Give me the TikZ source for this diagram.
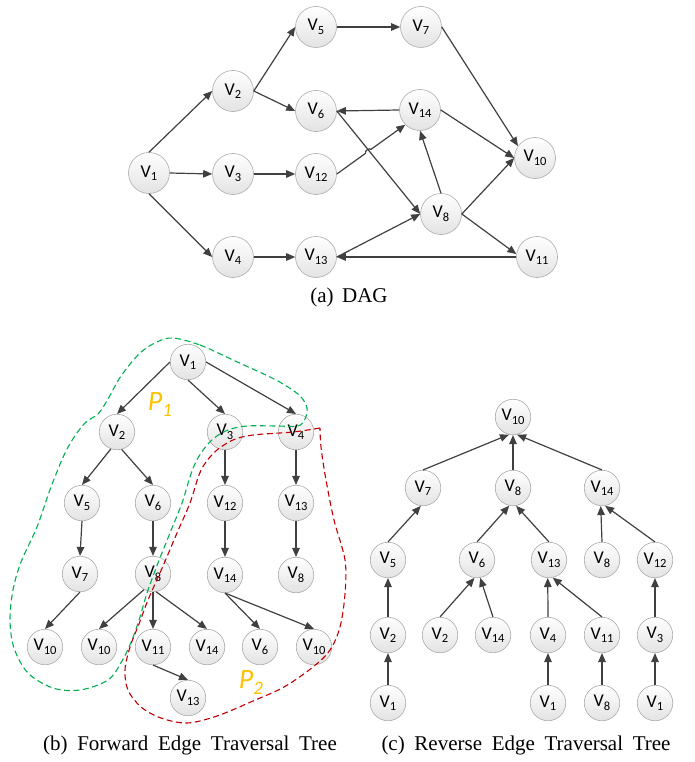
\documentclass[tikz,border=0pt]{standalone}
\usepackage{fontspec}
\setmainfont{Liberation Serif}
\newfontfamily\nodefont{Carlito}
\newfontfamily\capfont{Liberation Serif}
\usetikzlibrary{arrows.meta,calc}

\definecolor{edgegray}{HTML}{404040}
\definecolor{rimgray}{HTML}{ABABAB}
\definecolor{pgreen}{HTML}{00B050}
\definecolor{pred}{HTML}{C00000}
\definecolor{porange}{HTML}{FFC000}

% vertex label: V with a lowered index
\newcommand\vlab[1]{V\raisebox{-3.5pt}{\fontsize{12.5}{12.5}\selectfont #1}}

\begin{document}
\begin{tikzpicture}[x=1pt,y=-1pt,
  vtx/.style={circle, draw=rimgray, line width=0.6pt, top color=white,
    bottom color=black!11, inner sep=0pt, minimum size=41pt,
    font=\nodefont\fontsize{18}{18}\selectfont},
  tvtx/.style={vtx, minimum size=35.5pt},
  arc/.style={draw=edgegray, line width=1.2pt, -{Triangle[length=9pt,width=7.5pt]}},
  region/.style={line width=1.1pt, dash pattern=on 6pt off 3.5pt},
  plabel/.style={text=porange, font=\nodefont\itshape\fontsize{28}{28}\selectfont},
  caption/.style={inner sep=0pt, font=\capfont\fontsize{21}{25}\selectfont}]
\useasboundingbox (0,0) rectangle (694,762);

% ---------------- (a) the DAG ----------------
\node[vtx] (d1)  at (149,173) {\vlab{1}};
\node[vtx] (d2)  at (233,91)  {\vlab{2}};
\node[vtx] (d3)  at (233,174) {\vlab{3}};
\node[vtx] (d4)  at (233,257) {\vlab{4}};
\node[vtx] (d5)  at (316,27)  {\vlab{5}};
\node[vtx] (d6)  at (316,111) {\vlab{6}};
\node[vtx] (d12) at (316,174) {\vlab{12}};
\node[vtx] (d13) at (316,257) {\vlab{13}};
\node[vtx] (d7)  at (421,27)  {\vlab{7}};
\node[vtx] (d14) at (420,110) {\vlab{14}};
\node[vtx] (d8)  at (441,214) {\vlab{8}};
\node[vtx] (d10) at (535,158) {\vlab{10}};
\node[vtx] (d11) at (537,257) {\vlab{11}};

\draw[arc] (d1.north) -- (d2.west);
\draw[arc] (d1.east) -- (d3.west);
\draw[arc] (d1.south) -- (d4.west);
\draw[arc] (d2.east) -- (d5.west);
\draw[arc] (d2.east) -- (d6.west);
\draw[arc] (d3.east) -- (d12.west);
\draw[arc] (d4.east) -- (d13.west);
\draw[arc] (d5.east) -- (d7.west);
\draw[arc] (d7.east) -- (d10.145);
\draw[arc] (d14.west) -- (d6.east);
\draw[arc] (d14.east) -- (d10.west);
\draw[arc] (d6.east) -- (d8.west);
\draw[arc] (d13.east) -- (d8.west);
\draw[arc] (d8.north) -- (d14.south);
\draw[arc] (d8.east) -- (d10.west);
\draw[arc] (d8.east) -- (d11.172);
\draw[arc] (d11.west) -- (d13.east);
% V12 -> V14 hops over the V6 -> V8 line
\draw[arc] (d12.east) -- ($(d12.east)!0.42!(d14.south west)$)
  to[bend left=80] ($(d12.east)!0.50!(d14.south west)$) -- (d14.south west);

\node[caption] (capa) at (349,297) {(a)\hspace{0.4em}DAG};

% ---------------- (b) forward edge traversal tree ----------------
\node[tvtx] (f1)   at (188,362) {\vlab{1}};
\node[tvtx] (f2)   at (117,432) {\vlab{2}};
\node[tvtx] (f3)   at (225,432) {\vlab{3}};
\node[tvtx] (f4)   at (296,432) {\vlab{4}};
\node[tvtx] (f5)   at (82,503)  {\vlab{5}};
\node[tvtx] (f6)   at (153,503) {\vlab{6}};
\node[tvtx] (f12)  at (225,503) {\vlab{12}};
\node[tvtx] (f13)  at (296,503) {\vlab{13}};
\node[tvtx] (f7)   at (80,574)  {\vlab{7}};
\node[tvtx] (f8)   at (153,574) {\vlab{8}};
\node[tvtx] (f14)  at (225,575) {\vlab{14}};
\node[tvtx] (f8b)  at (296,575) {\vlab{8}};
\node[tvtx] (f10a) at (45,647)  {\vlab{10}};
\node[tvtx] (f10b) at (99,647)  {\vlab{10}};
\node[tvtx] (f11)  at (153,647) {\vlab{11}};
\node[tvtx] (f14b) at (207,647) {\vlab{14}};
\node[tvtx] (f6b)  at (260,647) {\vlab{6}};
\node[tvtx] (f10c) at (314,647) {\vlab{10}};
\node[tvtx] (f13b) at (188,698) {\vlab{13}};

\draw[arc] (f1.west) -- (f2.north);
\draw[arc] (f1.south) -- (f3.north);
\draw[arc] (f1.east) -- (f4.north);
\draw[arc] (f2.250) -- (f5.north);
\draw[arc] (f2.285) -- (f6.north);
\draw[arc] (f3.south) -- (f12.north);
\draw[arc] (f4.south) -- (f13.north);
\draw[arc] (f5.south) -- (f7.north);
\draw[arc] (f6.south) -- (f8.north);
\draw[arc] (f12.south) -- (f14.north);
\draw[arc] (f13.south) -- (f8b.north);
\draw[arc] (f7.south) -- (f10a.north);
\draw[arc] (f8.240) -- (f10b.north);
\draw[arc] (f8.south) -- (f11.north);
\draw[arc] (f8.280) -- (f14b.north);
\draw[arc] (f14.south) -- (f6b.north);
\draw[arc] (f14.south) -- (f10c.north);
\draw[arc] (f11.south) -- (f13b.north);

% path P1
\draw[region, pgreen] plot[smooth cycle, tension=0.55] coordinates {
  (173,338) (200,345) (233,360) (270,377) (288,387) (301,397) (307,408)
  (305,419) (298,426) (277,426) (247,426) (228,430) (213,439) (201,453)
  (192,471) (182,503) (170,533) (158,563) (147,593) (140,617) (132,640)
  (122,661) (108,680) (80,690) (53,688) (28,673) (14,648) (10,620)
  (13,590) (21,562) (37,527) (51,487) (67,449) (84,424) (98,414)
  (108,399) (121,376) (140,353) (157,342)};
% path P2
\draw[region, pred] plot[smooth, tension=0.55] coordinates {
  (320,428) (293,432) (253,435) (233,440) (217,450) (206,462) (199,475)
  (190,503) (177,533) (163,566) (148,600) (139,624) (130,647) (125,670)
  (128,690) (141,707) (161,718) (187,723) (217,716) (253,701) (284,687)
  (313,667) (330,650) (340,627) (345,594) (345,560) (334,520) (326,480)
  (321,447) (320,428)};

\node[plabel] (p1) at (160,405) {P\raisebox{-6pt}{\fontsize{19}{19}\selectfont 1}};
\node[plabel] (p2) at (251,683) {P\raisebox{-6pt}{\fontsize{19}{19}\selectfont 2}};

\node[caption] (capb) at (190,745) {\spaceskip=0.46em\relax (b) Forward Edge Traversal Tree};

% ---------------- (c) reverse edge traversal tree ----------------
\node[tvtx] (r10)  at (513,417) {\vlab{10}};
\node[tvtx] (r7)   at (423,488) {\vlab{7}};
\node[tvtx] (r8)   at (513,488) {\vlab{8}};
\node[tvtx] (r14)  at (602,488) {\vlab{14}};
\node[tvtx] (r5)   at (388,560) {\vlab{5}};
\node[tvtx] (r6)   at (477,560) {\vlab{6}};
\node[tvtx] (r13)  at (549,560) {\vlab{13}};
\node[tvtx] (r8b)  at (602,560) {\vlab{8}};
\node[tvtx] (r12)  at (655,560) {\vlab{12}};
\node[tvtx] (r2)   at (388,635) {\vlab{2}};
\node[tvtx] (r2b)  at (440,635) {\vlab{2}};
\node[tvtx] (r14b) at (493,635) {\vlab{14}};
\node[tvtx] (r4)   at (548,635) {\vlab{4}};
\node[tvtx] (r11)  at (602,635) {\vlab{11}};
\node[tvtx] (r3)   at (655,635) {\vlab{3}};
\node[tvtx] (r1)   at (388,703) {\vlab{1}};
\node[tvtx] (r1b)  at (548,703) {\vlab{1}};
\node[tvtx] (r8c)  at (602,703) {\vlab{8}};
\node[tvtx] (r1c)  at (655,703) {\vlab{1}};

\draw[arc] (r7.north) -- (r10.257);
\draw[arc] (r8.north) -- (r10.south);
\draw[arc] (r14.north) -- (r10.283);
\draw[arc] (r5.north) -- (r7.263);
\draw[arc] (r6.north) -- (r8.258);
\draw[arc] (r13.north) -- (r8.280);
\draw[arc] (r8b.north) -- (r14.266);
\draw[arc] (r12.north) -- (r14.280);
\draw[arc] (r2.north) -- (r5.south);
\draw[arc] (r2b.north) -- (r6.262);
\draw[arc] (r14b.north) -- (r6.280);
\draw[arc] (r4.north) -- (r13.266);
\draw[arc] (r11.north) -- (r13.282);
\draw[arc] (r3.north) -- (r12.south);
\draw[arc] (r1.north) -- (r2.south);
\draw[arc] (r1b.north) -- (r4.south);
\draw[arc] (r8c.north) -- (r11.south);
\draw[arc] (r1c.north) -- (r3.south);

\node[caption] (capc) at (526,745) {\spaceskip=0.46em\relax (c) Reverse Edge Traversal Tree};
\end{tikzpicture}
\end{document}
